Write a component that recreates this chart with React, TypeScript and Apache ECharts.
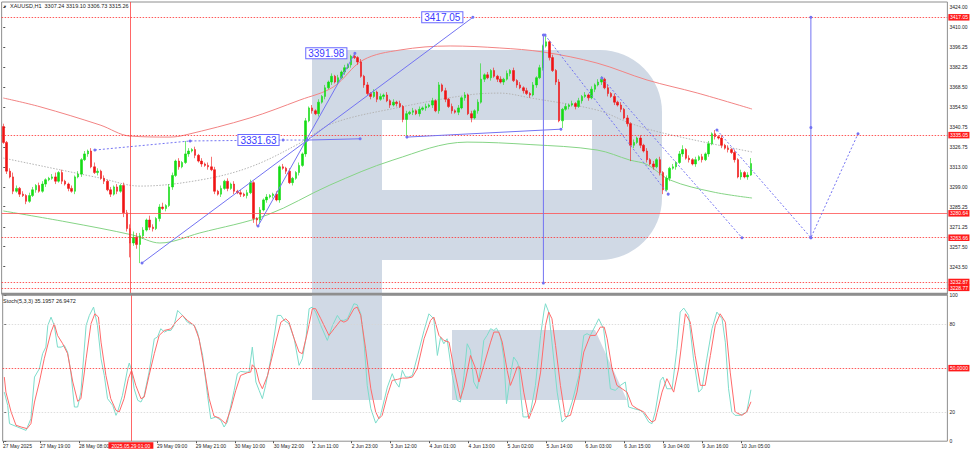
import React, { useEffect, useRef } from 'react';
import * as echarts from 'echarts';

// ---------- DATA ----------
const symbolName = 'XAUUSD,H1';
const totalSlots = 291; // bars + empty space on the right
const firstOpen = 3341;
const closes = [
  3330, 3310, 3306, 3296, 3298, 3294, 3293, 3289, 3293, 3297,
  3300, 3296, 3301, 3304, 3305, 3306, 3303, 3309, 3303, 3301,
  3298, 3296, 3306, 3308, 3318, 3322, 3324, 3313, 3309, 3310,
  3305, 3303, 3297, 3294, 3299, 3296, 3300, 3281, 3270, 3260,
  3264, 3259, 3265, 3269, 3276, 3271, 3270, 3277, 3285, 3284,
  3286, 3299, 3307, 3317, 3313, 3316, 3322, 3324, 3325, 3321,
  3317, 3315, 3314, 3313, 3311, 3296, 3294, 3298, 3303, 3298,
  3301, 3296, 3295, 3294, 3293, 3295, 3302, 3277, 3276, 3283,
  3290, 3292, 3293, 3294, 3290, 3313, 3312, 3310, 3302, 3305,
  3309, 3314, 3322, 3345, 3354, 3352, 3350, 3358, 3362, 3368,
  3372, 3376, 3372, 3375, 3379, 3382, 3384, 3390, 3389, 3386,
  3376, 3370, 3364, 3362, 3365, 3360, 3362, 3363, 3359, 3356,
  3358, 3357, 3355, 3346, 3350, 3351, 3352, 3350, 3353, 3354,
  3355, 3356, 3359, 3352, 3370, 3366, 3360, 3355, 3352, 3351,
  3354, 3361, 3363, 3350, 3347, 3352, 3358, 3374, 3377, 3375,
  3380, 3376, 3374, 3372, 3374, 3378, 3380, 3373, 3370, 3368,
  3366, 3364, 3363, 3370, 3375, 3382, 3397, 3400, 3389, 3380,
  3372, 3345, 3353, 3355, 3356, 3357, 3355, 3359, 3362, 3363,
  3361, 3367, 3370, 3372, 3374, 3368, 3364, 3362, 3358, 3356,
  3353, 3347, 3343, 3328, 3330, 3333, 3328, 3324, 3318, 3315,
  3313, 3318, 3309, 3297, 3305, 3312, 3313, 3316, 3322, 3325,
  3319, 3318, 3315, 3318, 3320, 3318, 3322, 3329, 3336, 3334,
  3333, 3328, 3326, 3325, 3323, 3318, 3306, 3309, 3306, 3307.24,
  3315.26,
];
const upWick = [
  2, 1, 2, 3, 2, 1, 2, 1, 2, 2,
  1, 2, 2, 1, 1, 2, 3, 1, 2, 1,
  1, 2, 1, 2, 1, 2, 1, 2, 3, 2,
  1, 2, 1, 2, 1, 2, 1, 2, 2, 3,
  4, 3, 2, 2, 1, 3, 2, 1, 2, 3,
  1, 2, 2, 1, 2, 1, 9, 2, 1, 2,
  1, 2, 1, 2, 7, 2, 1, 2, 1, 2,
  1, 2, 1, 2, 1, 2, 2, 1, 1, 2,
  1, 2, 1, 1, 2, 1, 2, 1, 2, 1,
  1, 2, 1, 2, 1, 2, 1, 2, 1, 2,
  1, 2, 1, 2, 1, 2, 1, 1, 1.98, 1,
  2, 1, 2, 1, 2, 1, 2, 1, 2, 1,
  2, 1, 2, 1, 2, 1, 2, 1, 2, 1,
  2, 1, 2, 1, 2, 1, 2, 1, 2, 1,
  2, 1, 2, 1, 2, 1, 2, 11, 1, 2,
  1, 2, 1, 2, 1, 2, 1, 2, 1, 2,
  1, 2, 1, 2, 1, 2, 1, 4.7, 1, 2,
  1, 2, 1, 2, 1, 2, 1, 2, 1, 2,
  1, 2, 1, 2, 2, 1, 2, 1, 2, 1,
  2, 1, 2, 1, 2, 1, 2, 1, 2, 1,
  2, 1, 2, 1, 2, 1, 2, 1, 2, 3,
  1, 2, 1, 2, 1, 2, 1, 2, 1, 2.6,
  1, 2, 1, 2, 1, 2, 1, 2, 1, 2,
  3.84,
];
const dnWick = [
  1, 2, 1, 2, 1, 2, 1, 2, 1, 1,
  2, 1, 1, 2, 1, 1, 2, 1, 2, 1,
  2, 1, 2, 1, 2, 1, 2, 1, 1, 2,
  1, 2, 1, 2, 1, 2, 1, 3, 2, 10,
  2, 3, 13, 2, 1, 2, 2, 1, 2, 1,
  2, 1, 2, 1, 2, 1, 1, 2, 1, 2,
  1, 2, 1, 2, 1, 2, 1, 2, 1, 2,
  1, 2, 1, 2, 1, 2, 1, 3, 4, 2,
  1, 2, 1, 2, 1, 2, 1, 2, 1, 2,
  1, 2, 1, 2, 1, 2, 1, 2, 1, 2,
  1, 2, 1, 2, 1, 2, 1, 2, 1, 2,
  1, 2, 1, 2, 1, 2, 1, 2, 1, 2,
  1, 2, 1, 2, 12, 1, 2, 1, 2, 1,
  2, 1, 2, 1, 2, 1, 2, 1, 2, 1,
  2, 1, 2, 1, 3, 1, 2, 1, 2, 1,
  2, 1, 2, 1, 2, 1, 2, 1, 2, 1,
  2, 1, 2, 1, 2, 1, 2, 1, 2, 1,
  2, 1, 5, 1, 2, 1, 2, 1, 2, 1,
  2, 1, 2, 1, 2, 1, 2, 1, 2, 1,
  2, 1, 2, 11, 2, 1, 2, 1, 2, 1,
  2, 1, 2, 3, 1, 2, 1, 2, 1, 2,
  1, 2, 1, 2, 1, 2, 1, 2, 1, 2,
  1, 2, 1, 2, 1, 2, 1, 2, 1, 2,
  0.51,
];

// moving-average style curves: [bar index, price]
const redCurve = [
  [0, 3360.9], [11.3, 3354.8], [29.8, 3342.1], [39, 3334.4], [51.3, 3333.7], [55.9, 3335.1],
  [75.9, 3347.0], [91.3, 3359.5], [101.5, 3368.5], [110.7, 3387.3], [122.1, 3394.3],
  [137.5, 3397.1], [152.8, 3395.7], [166.1, 3392.9], [182.7, 3385.2], [198.1, 3373.4],
  [213.5, 3364.4], [230.4, 3353.2],
];
const greenCurve = [
  [0, 3282.3], [19.6, 3274.6], [39.9, 3265.5], [48.2, 3260.0], [60.5, 3267.0], [81.2, 3279.5],
  [100.5, 3300.3], [119.9, 3317.7], [142.7, 3330.2], [162.1, 3328.5], [182.7, 3324.7],
  [192.8, 3317.7], [198.1, 3314.6], [205.2, 3303.8], [218.4, 3295.5], [230.4, 3291.3],
];
const greyCurve = [
  [0, 3319.1], [29.8, 3305.2], [42.1, 3299.6], [60.5, 3303.8], [75.9, 3312.8], [91.3, 3329.5],
  [101.5, 3343.4], [122.1, 3354.5], [142.7, 3362.9], [152.8, 3364.3], [162.1, 3361.0],
  [182.7, 3352.5], [192.8, 3343.4], [203, 3336.5], [230.4, 3323.3],
];

// drawn trend lines: [bar index, price]
const trendA = [[42.7, 3246.1], [144.5, 3417.05]];
const trendB = [[78.4, 3271.8], [108.2, 3391.98]];
const trendC = [[28.2, 3324.7], [57.5, 3331.0], [86.1, 3331.63], [93.5, 3331.63]];
const trendC2 = [[93.5, 3331.63], [109.8, 3332.5]];
const trendD = [[124.2, 3333.7], [171.6, 3339.2]];
const vertical1 = [[166.2, 3404.7], [166.2, 3232.1]];
const dashE1 = [[166.7, 3404.7], [204.6, 3294.0]];
const dashE2 = [[184.2, 3374.8], [227.3, 3263.66]];
const dashE3 = [[219.6, 3338.6], [248.5, 3263.66], [263, 3336.0]];
const vertical2 = [[248.5, 3417.05], [248.5, 3340.3], [248.5, 3263.66]];

// horizontal price levels
const dottedLevels = [3417.05, 3335.05, 3263.66, 3232.87, 3228.77];
const solidLevels = [3280.64];
const crossIndex = 39;
const crossLabel = '2025.05.29 01:00';

// axis tick labels
const priceTicks = [3424, 3410, 3396.25, 3382.25, 3368.5, 3354.5, 3340.75, 3326.75, 3313, 3299, 3285.25, 3271.25, 3257.5, 3243.5];
const stochTicks = [0, 20, 80, 100];
const timeLabels: [number, string][] = [
  [-0.4, '27 May 2025'], [11, '27 May 19:00'], [23, '28 May 08:00'], [47, '29 May 09:00'],
  [59, '29 May 21:00'], [71, '30 May 10:00'], [83, '30 May 22:00'], [95, '2 Jun 11:00'],
  [107, '2 Jun 23:00'], [119, '3 Jun 12:00'], [131, '4 Jun 01:00'], [143, '4 Jun 13:00'],
  [155, '5 Jun 02:00'], [167, '5 Jun 14:00'], [179, '6 Jun 03:00'], [191, '6 Jun 15:00'],
  [203, '9 Jun 04:00'], [215, '9 Jun 16:00'], [227, '10 Jun 05:00'],
];

// stochastic (5,3,3): [bar index, value]
const stochMain = [
  [0, 33.6], [1.05, 24.5], [1.6, 12.0], [4.1, 9.7], [6.7, 7.4], [8.2, 15.4], [9.3, 43.9], [10.8, 49.6], [11.8, 59.9], [12.8, 64.4],
  [13.4, 79.2], [14.4, 84.9], [15.4, 79.2], [16.4, 64.4], [17.5, 64.4], [18.5, 65.5], [19.5, 61.0], [20.5, 47.3], [21.6, 23.4], [22.6, 23.4],
  [23.6, 33.6], [25.2, 79.2], [26.2, 86.1], [27.5, 91.8], [28.7, 79.2], [29.8, 56.4], [30.8, 45.0], [31.8, 29.1], [33.4, 24.5], [34.4, 17.7],
  [34.9, 20.0], [36.4, 31.4], [38.0, 49.6], [38.5, 53.5], [39.2, 48.5], [40.0, 35.9], [41.1, 28.0], [42.1, 26.8], [43.1, 31.4], [44.6, 47.3],
  [46.2, 70.1], [47.2, 71.3], [48.2, 77.0], [49.3, 74.7], [50.3, 75.8], [51.3, 75.8], [52.3, 79.2], [53.4, 89.5], [54.9, 86.1], [56.4, 81.5],
  [58.5, 79.2], [59.5, 74.7], [61.1, 58.7], [62.6, 31.4], [63.6, 15.4], [65.2, 16.6], [66.7, 14.3], [67.7, 9.7], [68.7, 13.1], [70.8, 34.8],
  [71.8, 46.2], [72.8, 47.8], [74.4, 47.3], [75.4, 47.3], [76.4, 64.4], [77.5, 40.5], [78.5, 34.8], [79.5, 29.1], [80.5, 38.2], [82.1, 56.4],
  [84.1, 86.1], [85.2, 86.1], [86.2, 82.7], [87.7, 80.4], [89.3, 70.1], [90.8, 51.9], [91.8, 56.4], [92.9, 70.1], [93.9, 90.7], [94.9, 91.8],
  [95.9, 88.4], [97.5, 79.2], [99.5, 69.0], [101.1, 79.2], [102.6, 86.1], [103.6, 82.7], [104.6, 82.7], [105.7, 83.8], [107.7, 94.1], [108.7, 93.4],
  [109.8, 87.2], [110.8, 67.8], [111.8, 38.2], [112.9, 22.3], [114.4, 12.4], [115.9, 17.7], [118.0, 37.0], [119.5, 46.2], [120.5, 40.5], [121.6, 37.0],
  [122.6, 48.5], [123.6, 43.9], [124.6, 43.9], [125.7, 45.0], [127.2, 57.6], [129.3, 75.8], [130.8, 87.2], [132.3, 83.8], [133.4, 58.7], [134.4, 71.3],
  [135.4, 66.7], [136.4, 70.1], [138.0, 45.0], [139.5, 28.0], [140.5, 26.8], [141.6, 45.0], [142.6, 66.7], [143.6, 62.2], [144.6, 40.5], [145.7, 35.9],
  [146.7, 49.6], [147.7, 69.0], [148.7, 72.4], [149.8, 77.0], [150.8, 75.8], [151.6, 77.4], [152.8, 72.4], [153.9, 56.4], [154.7, 25.7], [155.9, 45.0],
  [156.9, 57.6], [158.0, 54.2], [158.5, 50.8], [159.0, 33.6], [159.8, 16.6], [161.1, 16.6], [162.1, 20.0], [163.6, 38.2], [165.2, 72.4], [166.2, 88.4],
  [166.7, 94.1], [167.7, 88.4], [168.7, 67.8], [170.3, 33.6], [171.8, 13.1], [173.4, 16.6], [174.9, 26.8], [177.0, 45.0], [178.5, 72.4], [179.5, 73.6],
  [180.5, 72.4], [182.1, 79.2], [183.1, 83.8], [184.6, 77.0], [185.7, 56.4], [186.7, 35.9], [188.2, 34.8], [189.8, 38.2], [191.3, 40.5], [192.3, 23.4],
  [193.9, 22.3], [195.9, 21.1], [197.0, 18.8], [198.5, 13.1], [199.5, 12.0], [200.5, 20.0], [202.1, 41.6], [202.9, 43.9], [204.1, 35.9], [205.7, 35.9],
  [207.2, 63.3], [208.2, 88.4], [209.3, 91.1], [210.8, 86.1], [212.3, 56.4], [213.9, 33.6], [214.9, 35.9], [216.4, 56.4], [218.0, 77.0], [219.5, 88.4],
  [221.1, 83.8], [222.1, 67.8], [223.1, 35.9], [224.1, 20.0], [225.1, 17.7], [226.7, 17.7], [228.7, 20.0], [230, 35.1957],
];
const stochSignal = [
  [0, 43.9], [0.5, 33.6], [2.1, 20.0], [3.6, 10.9], [5.2, 9.7], [7.0, 8.6], [8.2, 12.0], [9.3, 26.8], [10.8, 40.5], [12.3, 56.4],
  [14.4, 74.7], [15.4, 80.4], [16.4, 72.4], [18.0, 66.7], [19.5, 59.9], [21.1, 40.5], [22.6, 27.3], [23.6, 29.1], [25.2, 56.4], [26.7, 80.4],
  [27.9, 87.2], [29.0, 85.0], [29.8, 67.8], [31.3, 45.0], [32.8, 29.1], [34.4, 21.1], [35.4, 20.0], [36.9, 29.1], [38.2, 42.8], [39.2, 48.5],
  [40.5, 38.2], [42.1, 29.1], [43.1, 30.2], [44.6, 45.0], [46.2, 59.9], [47.7, 72.4], [49.3, 75.8], [51.3, 76.9], [52.8, 81.5], [54.9, 86.1],
  [56.4, 82.7], [58.5, 79.2], [60.0, 70.1], [61.6, 49.6], [63.1, 29.1], [64.6, 17.2], [66.2, 15.9], [68.2, 12.0], [69.8, 22.3], [71.3, 34.8],
  [72.8, 45.0], [74.9, 46.9], [75.9, 47.3], [76.4, 52.3], [77.5, 49.6], [78.5, 40.5], [79.5, 35.9], [81.1, 45.0], [83.1, 63.3], [85.2, 81.5],
  [86.7, 83.8], [87.7, 81.5], [89.3, 70.1], [90.8, 61.0], [91.8, 59.9], [93.4, 74.7], [94.9, 90.7], [95.9, 90.7], [97.5, 83.8], [100.0, 72.4],
  [101.6, 77.0], [103.6, 82.7], [104.6, 81.5], [105.7, 82.7], [107.7, 90.7], [108.7, 91.8], [109.8, 86.1], [111.3, 63.3], [112.9, 35.9], [114.4, 20.0],
  [115.4, 15.4], [116.4, 17.7], [118.0, 31.4], [119.5, 41.6], [121.1, 42.3], [122.6, 43.2], [124.1, 43.2], [125.7, 43.9], [127.2, 49.6], [129.3, 70.1],
  [131.3, 82.7], [132.3, 85.0], [133.9, 72.4], [135.4, 69.0], [137.0, 67.8], [138.5, 49.6], [140.5, 29.1], [141.6, 37.0], [143.6, 58.7], [145.2, 49.6],
  [146.2, 40.5], [147.7, 51.9], [149.8, 67.8], [150.8, 74.7], [152.3, 74.7], [153.4, 67.8], [154.9, 48.5], [155.9, 38.2], [156.9, 43.9], [158.0, 50.8],
  [158.8, 50.8], [160.0, 33.6], [161.6, 15.4], [163.6, 26.8], [165.2, 47.3], [166.7, 79.2], [167.7, 88.4], [168.7, 83.8], [169.8, 65.5], [171.3, 38.2],
  [172.8, 16.6], [174.4, 17.7], [176.4, 33.6], [178.5, 61.0], [180.5, 72.4], [182.1, 72.4], [183.6, 78.1], [184.8, 78.1], [185.7, 70.1], [187.2, 49.6],
  [188.7, 38.2], [190.3, 35.9], [191.8, 33.6], [193.4, 24.5], [194.9, 22.3], [197.0, 20.0], [198.5, 15.4], [199.5, 13.1], [200.5, 14.3], [202.6, 33.6],
  [204.1, 42.8], [206.2, 33.6], [207.7, 49.6], [209.8, 87.2], [211.3, 81.5], [212.8, 58.7], [214.4, 38.2], [215.9, 38.2], [217.5, 58.7], [219.0, 79.2],
  [220.5, 87.2], [222.1, 81.5], [223.6, 47.3], [225.1, 20.0], [227.2, 17.7], [228.7, 20.0], [230, 26.9472],
];

// ---------- CHART ----------
const FONT = 'Liberation Sans, Arial, sans-serif';
const BLUE = '#7373f2';

function buildOption() {
  const opens = closes.map((c, i) => (i === 0 ? firstOpen : closes[i - 1]));
  const candles = closes.map((c, i) => {
    const o = opens[i];
    return [o, c, Math.min(o, c) - dnWick[i], Math.max(o, c) + upWick[i]];
  });
  const last = candles[candles.length - 1];
  const cats = Array.from({ length: totalSlots }, (_, i) => String(i));
  const labelMap = new Map(timeLabels.map(([k, v]) => [k, v]));

  const blueLabel = (distance: number) => ({
    show: true,
    position: 'left',
    distance,
    formatter: (p: any) => Number(p.value[1]).toFixed(2),
    fontSize: 10,
    fontFamily: FONT,
    color: '#3a3aff',
    backgroundColor: '#ffffff',
    borderColor: '#6a6aff',
    borderWidth: 1,
    padding: [0, 2, 0, 2],
  });

  const trend = (name: string, pts: number[][], dashed: boolean, labelAt = -1, labelDist = 6, extra: any = {}) => ({
    type: 'line',
    name,
    xAxisIndex: 1,
    yAxisIndex: 0,
    data: pts.map((p, i) => (i === labelAt ? { value: p, label: blueLabel(labelDist) } : { value: p })),
    symbol: 'circle',
    symbolSize: 3,
    showSymbol: true,
    lineStyle: { color: BLUE, width: 1, type: dashed ? [2, 2] : 'solid' },
    itemStyle: { color: BLUE },
    label: { show: false },
    z: 6,
    silent: true,
    ...extra,
  });

  const curve = (name: string, pts: number[][], color: string, dotted = false) => ({
    type: 'line',
    name,
    xAxisIndex: 1,
    yAxisIndex: 0,
    data: pts,
    smooth: 0.35,
    symbol: 'none',
    lineStyle: { color, width: 1, type: dotted ? [1.5, 1.5] : 'solid' },
    z: 3,
    silent: true,
  });

  const priceLabel = (bg: string) => ({
    show: true,
    position: 'end',
    distance: 1,
    formatter: (p: any) => Number(p.value).toFixed(2),
    fontSize: 5,
    fontFamily: FONT,
    color: '#ffffff',
    backgroundColor: bg,
    padding: [1, 1.5, 0.5, 1.5],
  });

  return {
    animation: false,
    backgroundColor: '#ffffff',
    textStyle: { fontFamily: FONT },
    title: [
      {
        text: `{t|▼}  ${symbolName}  ${last[0].toFixed(2)} ${last[3].toFixed(2)} ${last[2].toFixed(2)} ${last[1].toFixed(2)}`,
        left: 3,
        top: 3,
        padding: 0,
        textStyle: { fontSize: 5.5, fontWeight: 'normal', color: '#222', fontFamily: FONT, rich: { t: { fontSize: 4, color: '#222' } } },
      },
      {
        text: `Stoch(5,3,3) ${stochMain[stochMain.length - 1][1].toFixed(4)} ${stochSignal[stochSignal.length - 1][1].toFixed(4)}`,
        left: 3,
        top: 298,
        padding: 0,
        textStyle: { fontSize: 5.5, fontWeight: 'normal', color: '#222', fontFamily: FONT },
      },
    ],
    graphic: {
      elements: [
        { type: 'rect', z: 0, shape: { x: 312, y: 50, width: 350, height: 210, r: [0, 62, 62, 0] }, style: { fill: '#d0d9e5' } },
        { type: 'rect', z: 0, shape: { x: 312, y: 50, width: 70, height: 350 }, style: { fill: '#d0d9e5' } },
        { type: 'rect', z: 0, shape: { x: 382, y: 120, width: 210, height: 70 }, style: { fill: '#ffffff' } },
        { type: 'polygon', z: 0, shape: { points: [[452, 330], [595, 330], [627, 400], [452, 400]] }, style: { fill: '#d0d9e5' } },
        { type: 'rect', z: 50, shape: { x: 1.6, y: 292.8, width: 946, height: 2.6 }, style: { fill: '#8e8e8e' } },
      ],
    },
    grid: [
      { left: 1.625, top: 2, width: 945.75, height: 292, show: true, borderColor: '#8e8e8e', borderWidth: 1, backgroundColor: 'transparent' },
      { left: 1.625, top: 295.1, width: 945.75, height: 146.1, show: true, borderColor: '#8e8e8e', borderWidth: 1, backgroundColor: 'transparent' },
    ],
    xAxis: [
      { type: 'category', gridIndex: 0, data: cats, boundaryGap: true, show: false },
      { type: 'value', gridIndex: 0, min: -0.5, max: totalSlots - 0.5, show: false },
      {
        type: 'value',
        gridIndex: 1,
        min: -0.5,
        max: totalSlots - 0.5,
        axisLine: { show: false },
        splitLine: { show: false },
        axisTick: { show: true, customValues: timeLabels.map((t) => t[0]), length: 2, lineStyle: { color: '#555' } },
        axisLabel: {
          customValues: timeLabels.map((t) => t[0]),
          formatter: (v: number) => labelMap.get(v) ?? '',
          align: 'left',
          fontSize: 5,
          color: '#222',
          margin: 2,
          fontFamily: FONT,
        },
      },
    ],
    yAxis: [
      {
        type: 'value',
        gridIndex: 0,
        position: 'right',
        min: 3224.5,
        max: 3427.7,
        axisLine: { show: false },
        splitLine: { show: false },
        axisTick: { show: true, customValues: priceTicks, length: 2, lineStyle: { color: '#555' } },
        axisLabel: { customValues: priceTicks, formatter: (v: number) => v.toFixed(2), fontSize: 5, color: '#222', margin: 2, fontFamily: FONT },
      },
      {
        type: 'value',
        gridIndex: 1,
        position: 'right',
        min: 0,
        max: 100,
        axisLine: { show: false },
        splitLine: { show: false },
        axisTick: { show: true, customValues: stochTicks, length: 2, lineStyle: { color: '#555' } },
        axisLabel: { customValues: stochTicks, formatter: (v: number) => String(v), fontSize: 5, color: '#222', margin: 2, fontFamily: FONT },
      },
    ],
    series: [
      curve('MA red', redCurve, '#f28484'),
      curve('MA green', greenCurve, '#86d486'),
      curve('MA grey', greyCurve, '#b4b4b4', true),
      {
        type: 'candlestick',
        name: symbolName,
        xAxisIndex: 0,
        yAxisIndex: 0,
        data: candles,
        barWidth: 2,
        z: 4,
        silent: true,
        itemStyle: { color: '#14dc14', color0: '#f01414', borderColor: '#14dc14', borderColor0: '#f01414', borderWidth: 0.6 },
        markLine: {
          symbol: 'none',
          silent: true,
          precision: 2,
          data: [
            ...dottedLevels.map((v) => ({ yAxis: v, lineStyle: { color: '#ff3030', width: 0.8, type: [1.5, 1.5] }, label: priceLabel('#ff1a1a') })),
            ...solidLevels.map((v) => ({ yAxis: v, lineStyle: { color: '#ff5050', width: 0.8, type: 'solid' }, label: priceLabel('#ff1a1a') })),
            { yAxis: last[1], lineStyle: { opacity: 0 }, label: priceLabel('#000000') },
          ],
        },
      },
      trend('trend A', trendA, false, 1, 9, {
        markLine: {
          symbol: 'none',
          silent: true,
          data: [{ xAxis: crossIndex, lineStyle: { color: '#ff4040', width: 0.8, type: 'solid' }, label: { show: false } }],
        },
      }),
      trend('trend B', trendB, false, 1, 7),
      trend('trend C', trendC, true, 2, 3),
      trend('trend C2', trendC2, false),
      trend('trend D', trendD, false),
      trend('vertical 1', vertical1, false),
      trend('dash E1', dashE1, true),
      trend('dash E2', dashE2, true),
      trend('dash E3', dashE3, true),
      trend('vertical 2', vertical2, false),
      {
        type: 'line',
        name: 'Stoch main',
        xAxisIndex: 2,
        yAxisIndex: 1,
        data: stochMain,
        symbol: 'none',
        lineStyle: { color: '#7ddccb', width: 1 },
        z: 4,
        silent: true,
        markLine: {
          symbol: 'none',
          silent: true,
          data: [
            {
              yAxis: 50,
              lineStyle: { color: '#ff3030', width: 0.8, type: [1.5, 1.5] },
              label: { ...priceLabel('#ff1a1a'), formatter: () => '50.0000' },
            },
            {
              xAxis: crossIndex,
              lineStyle: { color: '#ff4040', width: 0.8, type: 'solid' },
              label: {
                show: true,
                position: 'start',
                distance: 1,
                formatter: crossLabel,
                fontSize: 5,
                fontFamily: FONT,
                color: '#ffffff',
                backgroundColor: '#ff1a1a',
                padding: [1, 3, 0.5, 3],
              },
            },
          ],
        },
      },
      {
        type: 'line',
        name: 'Stoch signal',
        xAxisIndex: 2,
        yAxisIndex: 1,
        data: stochSignal,
        symbol: 'none',
        lineStyle: { color: '#ff6a6a', width: 1 },
        z: 4,
        silent: true,
        markLine: {
          symbol: 'none',
          silent: true,
          data: [
            { yAxis: 80, lineStyle: { color: '#d6d6d6', width: 0.8, type: [1.5, 1.5] }, label: { show: false } },
            { yAxis: 20, lineStyle: { color: '#d6d6d6', width: 0.8, type: [1.5, 1.5] }, label: { show: false } },
          ],
        },
      },
    ],
  };
}

export default function App() {
  const ref = useRef<HTMLDivElement>(null);
  useEffect(() => {
    if (!ref.current) return;
    const chart = echarts.init(ref.current, null, { renderer: 'svg' });
    chart.setOption(buildOption() as any);
    return () => chart.dispose();
  }, []);
  return <div ref={ref} style={{ width: 974, height: 451, position: 'absolute', left: 0, top: 0 }} />;
}
